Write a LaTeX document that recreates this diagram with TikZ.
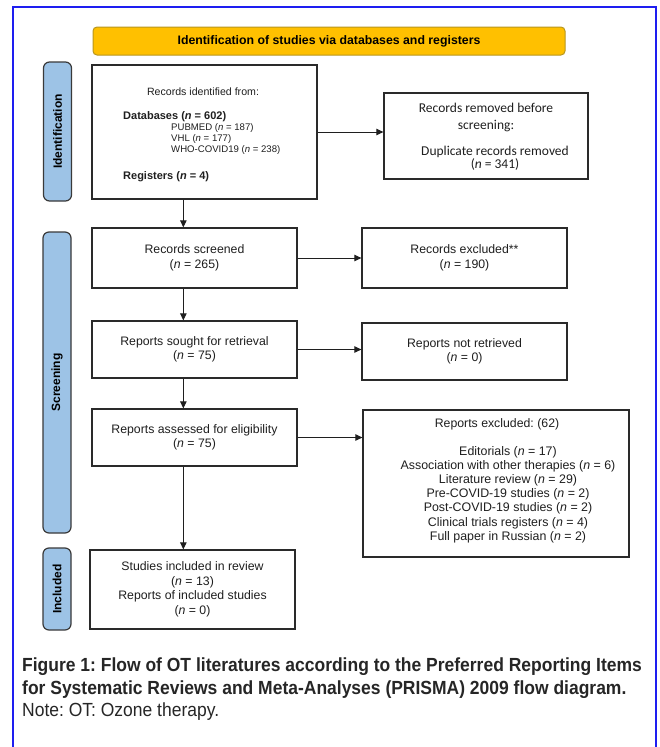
\documentclass[tikz,border=0pt]{standalone}
\usepackage{fontspec}
\setmainfont{Liberation Sans}
\newfontfamily\calfont{Carlito}
\newfontfamily\capfont{Liberation Sans}[FakeStretch=0.92]
\usetikzlibrary{arrows.meta}
\definecolor{frameblue}{HTML}{1E1EF0}
\definecolor{headgold}{HTML}{FFC000}
\definecolor{headedge}{HTML}{B8961E}
\definecolor{tabblue}{HTML}{9DC3E6}
\definecolor{tabedge}{HTML}{3A3A3A}
\definecolor{boxedge}{HTML}{2A2A2A}
\definecolor{inktext}{HTML}{1F1F1F}
\frenchspacing
\begin{document}
\begin{tikzpicture}[x=1pt,y=-1pt,
  box/.style={draw=boxedge,line width=1.3pt,fill=white,inner sep=0pt,minimum width=205pt,
    align=center,text=inktext,font=\fontsize{12.3}{14.6}\selectfont},
  tab/.style={draw=tabedge,line width=1.2pt,fill=tabblue,rounded corners=6pt,rotate=90,
    minimum height=28pt,inner sep=0pt,font=\bfseries\fontsize{12}{14}\selectfont},
  headbar/.style={draw=headedge,line width=1pt,fill=headgold,rounded corners=4pt,
    minimum width=472pt,minimum height=28pt,inner sep=0pt,font=\bfseries\fontsize{12.3}{14}\selectfont},
  txt/.style={inner sep=0pt,text=inktext},
  caltxt/.style={txt,anchor=base,font=\calfont\fontsize{13.5}{15}\selectfont},
  flow/.style={-{Triangle[length=7pt,width=6.5pt]},line width=0.8pt,draw=inktext},
  captxt/.style={txt,anchor=base west,text=black!85,font=\capfont\fontsize{19}{22}\selectfont}]
 \useasboundingbox[fill=white] (0,0) rectangle (659,747);
 \draw[frameblue,line width=2.2pt] (13,747) -- (13,7) -- (656,7) -- (656,747);

 \node[headbar] (head) at (329,41) {Identification of studies via databases and registers};

 % phase tabs
 \node[tab,minimum width=139pt] (tabid) at (57.5,131.5) {Identification};
 \node[tab,minimum width=301pt] (tabscr) at (57,382.5) {Screening};
 \node[tab,minimum width=82pt] (tabinc) at (57,589) {Included};

 % identification
 \node[box,minimum width=225pt,minimum height=134pt] (ident) at (204.5,132) {};
 \node[txt,font=\fontsize{10.6}{12}\selectfont] (identhd) at (203,92) {Records identified from:};
 \node[txt,anchor=west,font=\bfseries\fontsize{11}{13}\selectfont] (dbs) at (123,117) {Databases (\textit{n} = 602)};
 \node[txt,anchor=west,align=left,font=\fontsize{9.6}{11}\selectfont] (dblist) at (171,139)
   {PUBMED (\textit{n} = 187)\\VHL (\textit{n} = 177)\\WHO-COVID19 (\textit{n} = 238)};
 \node[txt,anchor=west,font=\bfseries\fontsize{11}{13}\selectfont] (regs) at (123,177) {Registers (\textit{n} = 4)};

 \node[box,minimum width=204pt,minimum height=86pt] (removed) at (486,136) {};
 \node[caltxt] (remA) at (486,112) {Records removed before};
 \node[caltxt] (remB) at (486,129) {screening:};
 \node[caltxt] (remC) at (495,155) {Duplicate records removed};
 \node[caltxt] (remD) at (495,168) {(\textit{n} = 341)};

 % screening
 \node[box,minimum height=60pt] (screened) at (194.5,258) {Records screened\\(\textit{n} = 265)};
 \node[box,minimum height=60pt] (excluded) at (464.5,258) {Records excluded**\\(\textit{n} = 190)};
 \node[box,minimum height=57pt] (sought) at (194.5,349.5) {Reports sought for retrieval\\(\textit{n} = 75)};
 \node[box,minimum height=57pt] (notretr) at (464.5,351.5) {Reports not retrieved\\(\textit{n} = 0)};
 \node[box,minimum height=57pt] (assessed) at (194.5,437.5) {Reports assessed for eligibility\\(\textit{n} = 75)};

 \node[box,minimum width=266pt,minimum height=147pt] (repexcl) at (496,483.5) {};
 \node[txt,font=\fontsize{12.3}{14}\selectfont] (repexclhd) at (497,424) {Reports excluded: (62)};
 \node[txt,align=center,font=\fontsize{12.4}{14.2}\selectfont] (repexcllist) at (508,494.5)
   {Editorials (\textit{n} = 17)\\
    Association with other therapies (\textit{n} = 6)\\
    Literature review (\textit{n} = 29)\\
    Pre-COVID-19 studies (\textit{n} = 2)\\
    Post-COVID-19 studies (\textit{n} = 2)\\
    Clinical trials registers (\textit{n} = 4)\\
    Full paper in Russian (\textit{n} = 2)};

 % included
 \node[box,minimum height=79pt] (incl) at (192.5,589.5)
   {Studies included in review\\(\textit{n} = 13)\\Reports of included studies\\(\textit{n} = 0)};

 % connectors
 \draw[flow] (ident.east) -- (ident.east -| removed.west);
 \draw[flow] ([xshift=92pt]ident.south west) -- ([xshift=92pt]ident.south west |- screened.north);
 \draw[flow] (screened.east) -- (excluded.west);
 \draw[flow] ([xshift=92pt]screened.south west) -- ([xshift=92pt]screened.south west |- sought.north);
 \draw[flow] (sought.east) -- (sought.east -| notretr.west);
 \draw[flow] ([xshift=92pt]sought.south west) -- ([xshift=92pt]sought.south west |- assessed.north);
 \draw[flow] (assessed.east) -- (assessed.east -| repexcl.west);
 \draw[flow] ([xshift=92pt]assessed.south west) -- ([xshift=92pt]assessed.south west |- incl.north);

 % caption
 \node[captxt] (capA) at (22,671) {\bfseries Figure 1: Flow of OT literatures according to the Preferred Reporting Items};
 \node[captxt] (capB) at (22,694) {\bfseries for Systematic Reviews and Meta-Analyses (PRISMA) 2009 flow diagram.};
 \node[captxt] (capC) at (22,716) {Note: OT: Ozone therapy.};
\end{tikzpicture}
\end{document}
